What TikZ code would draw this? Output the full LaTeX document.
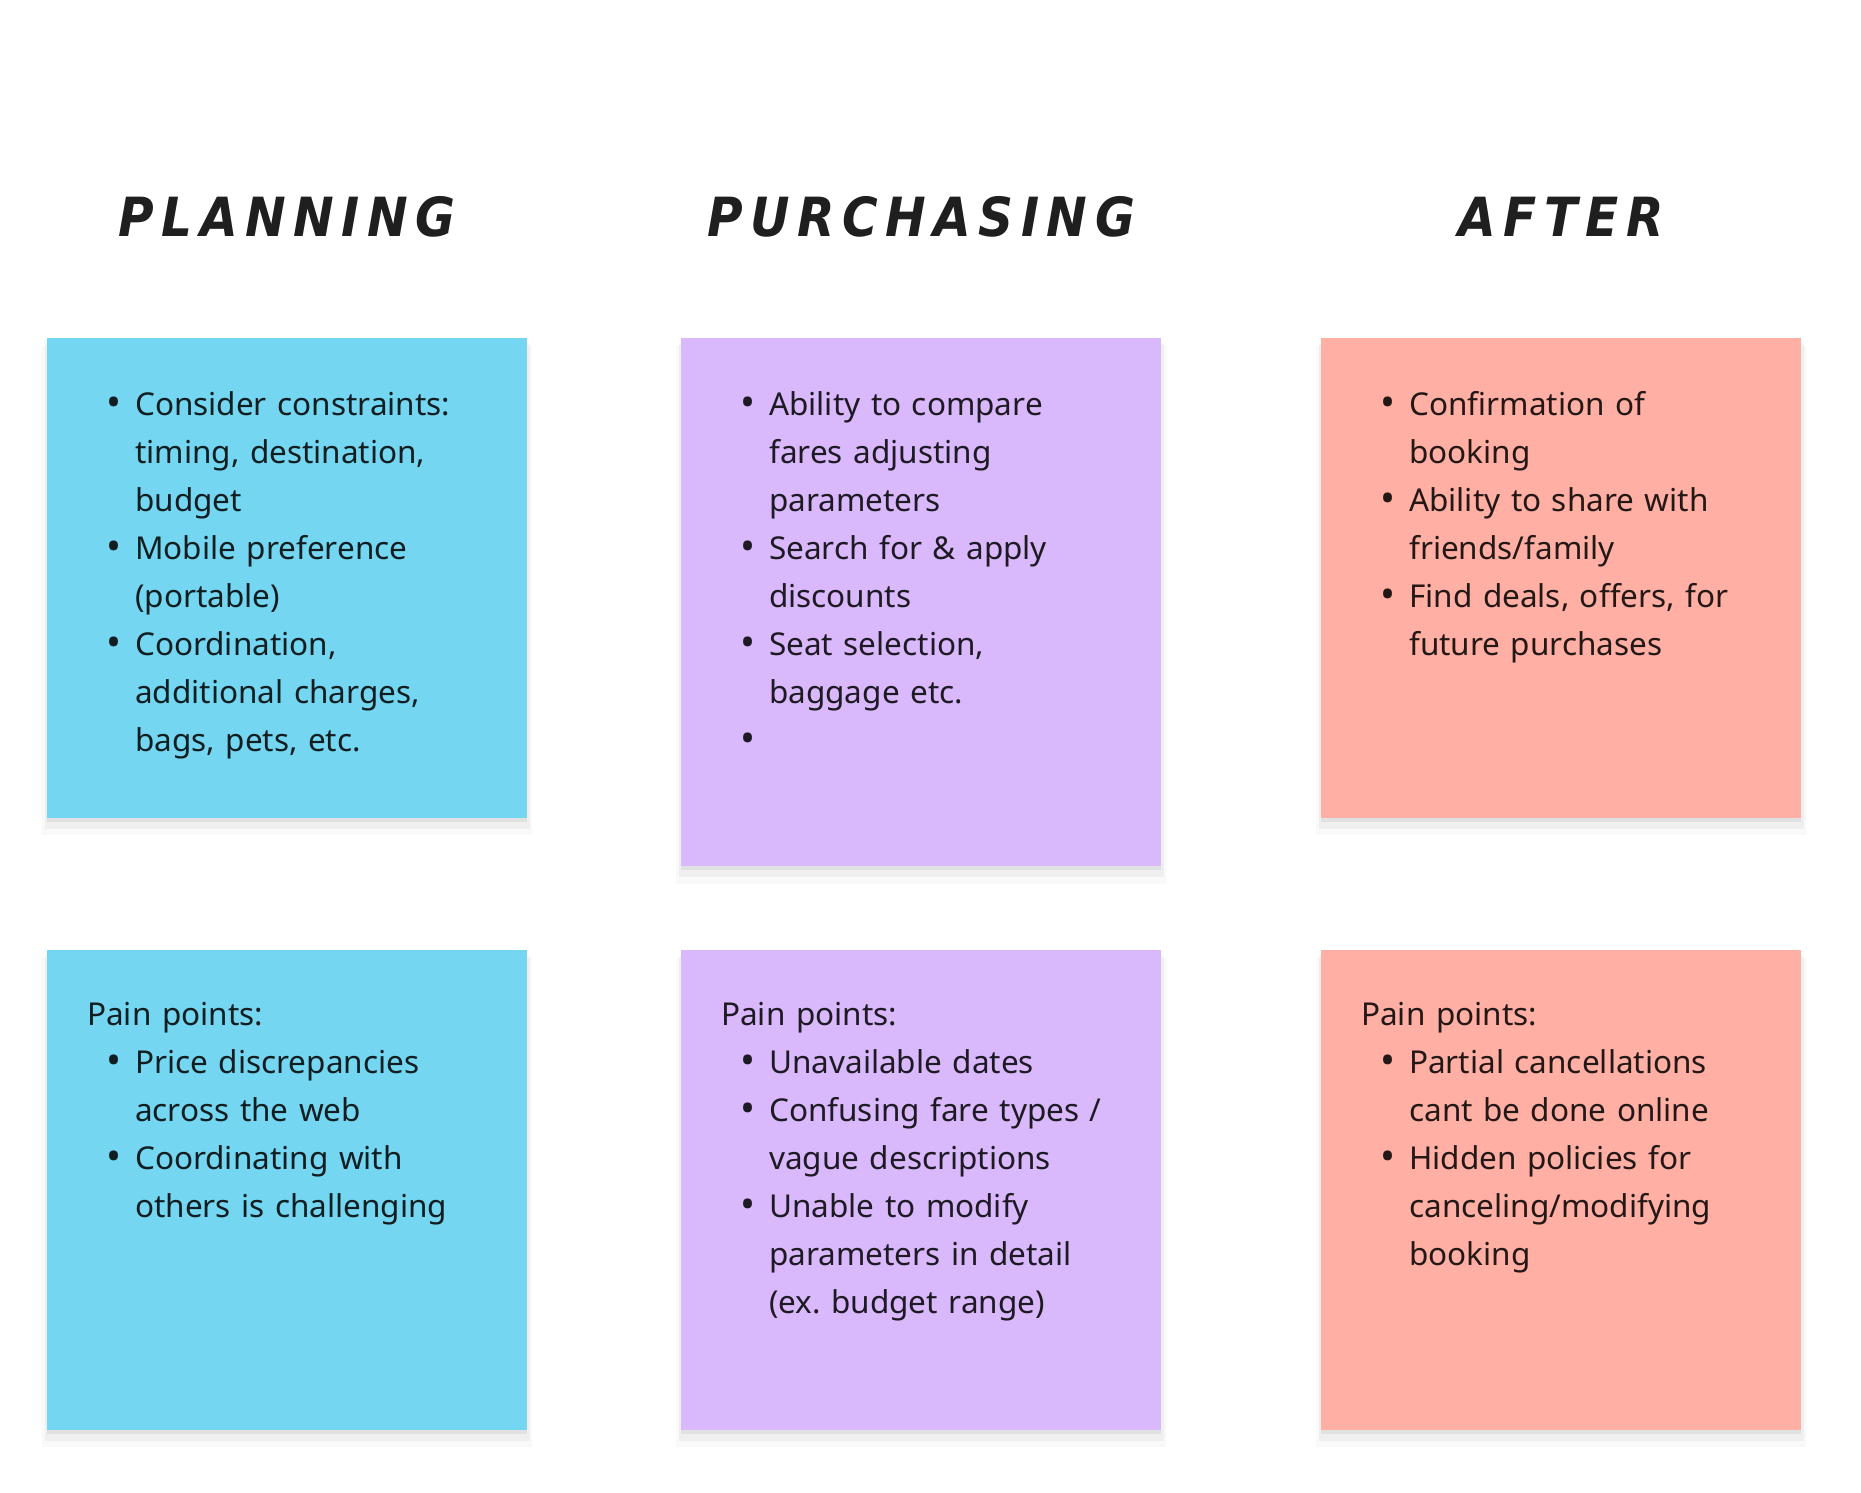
\documentclass[tikz,border=0pt]{standalone}
\usepackage{fontspec}
\setmainfont{Noto Sans}
\newfontfamily\headfont{DejaVu Sans Condensed}[LetterSpace=14]
\usepackage{enumitem}
\usetikzlibrary{positioning,shadows}

\definecolor{skyblue}{HTML}{74D6F0}
\definecolor{lilac}{HTML}{D9B8FC}
\definecolor{salmon}{HTML}{FFAFA3}
\setlist[itemize]{nosep,leftmargin=48pt,labelsep=14pt,
  label={\fontsize{40}{40}\selectfont\raisebox{-1pt}{\textbullet}}}

\begin{document}
\begin{tikzpicture}[x=1pt,y=-1pt,
    sticky/.style={rectangle, fill=#1, minimum width=480pt, minimum height=480pt,
      inner sep=0pt, anchor=north west,
      general shadow={fill=black, opacity=0.025, shadow yshift=-12pt, shadow scale=1.02},
      general shadow={fill=black, opacity=0.04, shadow yshift=-8pt, shadow scale=1.01},
      general shadow={fill=black, opacity=0.06, shadow yshift=-4pt}},
    head/.style={font=\headfont\bfseries\itshape\fontsize{54}{54}\selectfont, text=black!88},
    notes/.style={anchor=north west, inner sep=0pt, text width=440pt, align=left,
      font=\fontsize{31.5}{48}\selectfont, text=black!86!#1}]
  \useasboundingbox (0,0) rectangle (1861,1493);

  % sticky notes, top row
  \node[sticky=skyblue] (planning) at (47,338) {};
  \node[sticky=lilac, minimum height=528pt] (purchasing) at (681,338) {};
  \node[sticky=salmon] (after) at (1321,338) {};

  % sticky notes, bottom row
  \node[sticky=skyblue] (planningpain) at (47,950) {};
  \node[sticky=lilac] (purchasingpain) at (681,950) {};
  \node[sticky=salmon] (afterpain) at (1321,950) {};

  % column titles
  \node[head] (planninghead) at ([yshift=121pt]planning.north) {PLANNING};
  \node[head] (purchasinghead) at ([yshift=121pt]purchasing.north) {PURCHASING};
  \node[head] (afterhead) at ([yshift=121pt]after.north) {AFTER};

  \node[notes=skyblue] (planningtext) at ([shift={(40,29)}]planning.north west) {%
    \begin{itemize}
      \item Consider constraints:\\ timing, destination,\\ budget
      \item Mobile preference\\ (portable)
      \item Coordination,\\ additional charges,\\ bags, pets, etc.
    \end{itemize}};
  \node[notes=lilac] (purchasingtext) at ([shift={(40,29)}]purchasing.north west) {%
    \begin{itemize}
      \item Ability to compare\\ fares adjusting\\ parameters
      \item Search for \& apply\\ discounts
      \item Seat selection,\\ baggage etc.
      \item \mbox{}
    \end{itemize}};
  \node[notes=salmon] (aftertext) at ([shift={(40,29)}]after.north west) {%
    \begin{itemize}
      \item Confirmation of\\ booking
      \item Ability to share with\\ friends/family
      \item Find deals, offers, for\\ future purchases
    \end{itemize}};

  \node[notes=skyblue] (planningpaintext) at ([shift={(40,52)}]planningpain.north west) {%
    Pain points:
    \begin{itemize}
      \item Price discrepancies\\ across the web
      \item Coordinating with\\ others is challenging
    \end{itemize}};
  \node[notes=lilac] (purchasingpaintext) at ([shift={(40,52)}]purchasingpain.north west) {%
    Pain points:
    \begin{itemize}
      \item Unavailable dates
      \item Confusing fare types /\\ vague descriptions
      \item Unable to modify\\ parameters in detail\\ (ex.\ budget range)
    \end{itemize}};
  \node[notes=salmon] (afterpaintext) at ([shift={(40,52)}]afterpain.north west) {%
    Pain points:
    \begin{itemize}
      \item Partial cancellations\\ cant be done online
      \item Hidden policies for\\ canceling/modifying\\ booking
    \end{itemize}};
\end{tikzpicture}
\end{document}
